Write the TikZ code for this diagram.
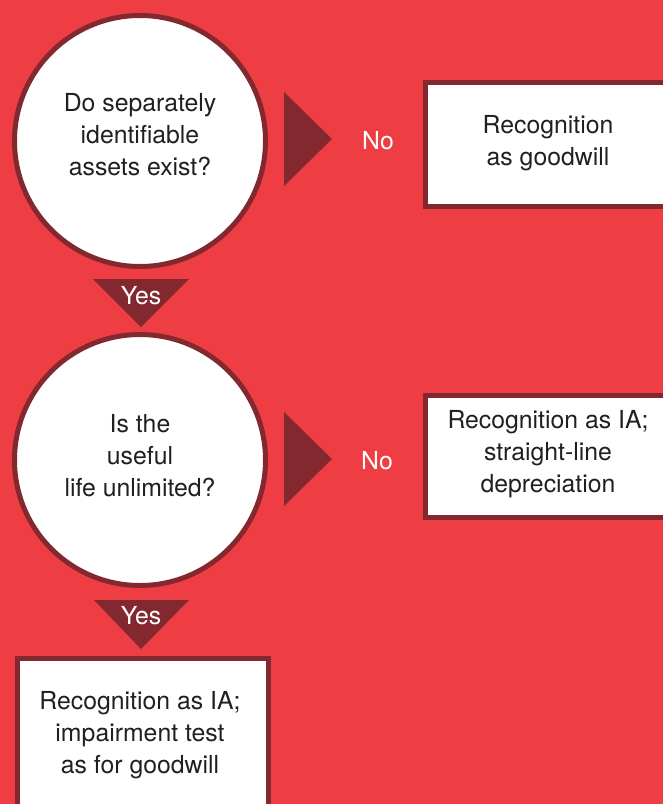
\documentclass[tikz,border=0pt]{standalone}
\usepackage{fontspec}
\setmainfont{TeX Gyre Heros}
\begin{document}
\begin{tikzpicture}[x=1pt,y=-1pt,
  txt/.style={text=textgray,font=\fontsize{24.8}{32}\selectfont,align=center},
  lbl/.style={text=white,font=\fontsize{24.8}{32}\selectfont},
  question/.style={circle,fill=white,draw=darkred,line width=5pt,minimum size=251pt,inner sep=0pt},
  result/.style={rectangle,fill=white,draw=darkred,line width=5pt,inner sep=0pt},
  arrowtri/.style={fill=darkred}]
\definecolor{bgred}{HTML}{EE3E44}
\definecolor{darkred}{HTML}{842830}
\definecolor{textgray}{HTML}{231F20}
\fill[bgred] (0,0) rectangle (663,804);
\useasboundingbox (0,0) rectangle (663,804);
% questions
\node[question] (q1) at (140,141) {};
\node[txt] (q1t) at (140,135) {Do separately\\identifiable\\assets exist?};
\node[question] (q2) at (140,460) {};
\node[txt] (q2t) at (140,456) {Is the\\useful\\life unlimited?};
% results
\node[result,minimum width=260pt,minimum height=124pt,anchor=north west] (r1) at (422.5,79.5) {};
\node[txt] (r1t) at (548,143) {Recognition\\as goodwill};
\node[result,minimum width=260pt,minimum height=122pt,anchor=north west] (r2) at (422.5,392.5) {};
\node[txt] (r2t) at (548,454) {Recognition as IA;\\straight-line\\depreciation};
\node[result,minimum width=251pt,minimum height=170pt,anchor=north west] (r3) at (14.5,655.5) {};
\node[txt] (r3t) at (140,735) {Recognition as IA;\\impairment test\\as for goodwill};
% arrow triangles
\fill[arrowtri] (284,92) -- (332,139) -- (284,186) -- cycle;
\node[lbl] (n1) at (378,141) {No};
\fill[arrowtri] (284,412) -- (332,459) -- (284,506) -- cycle;
\node[lbl] (n2) at (377,461) {No};
\fill[arrowtri] (93,279) -- (189,279) -- (141,327) -- cycle;
\node[lbl] (y1) at (141,296) {Yes};
\fill[arrowtri] (94,600) -- (189,600) -- (141,649) -- cycle;
\node[lbl] (y2) at (141,616) {Yes};
\end{tikzpicture}
\end{document}
